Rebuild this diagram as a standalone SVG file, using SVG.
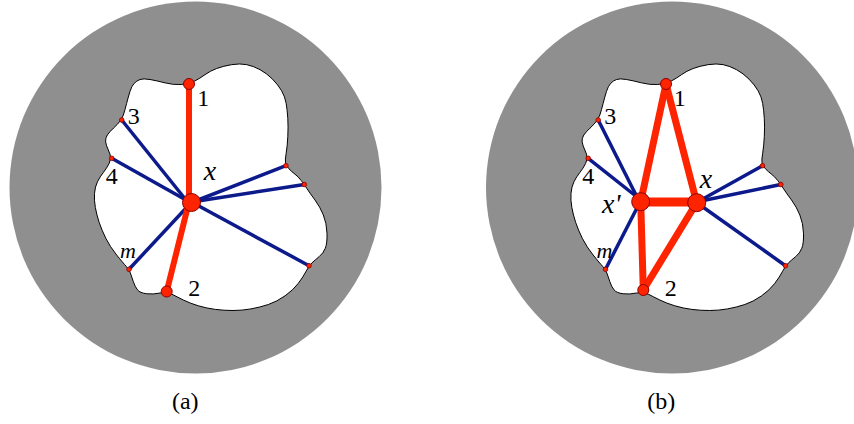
<svg xmlns="http://www.w3.org/2000/svg" xmlns:xlink="http://www.w3.org/1999/xlink" width="854" height="424" viewBox="0 0 854 424">
<style>
.disk{fill:#8f8f8f;stroke:none}
.blob{fill:#ffffff;stroke:#000000;stroke-width:1}
.red{stroke:#ff2400;stroke-linecap:round;fill:none}
.blue{stroke:#0c1a8c;stroke-width:3.5;stroke-linecap:butt;fill:none}
.dot{fill:#ff2400;stroke:#8a0000;stroke-width:0.8}
.node{fill:#ff2400;stroke:#8a0000;stroke-width:1}
text{font-family:'Liberation Serif','DejaVu Serif',Tinos,'Times New Roman',serif;fill:#000;text-anchor:middle}
.lbl{font-size:24px}
.var{font-style:italic;font-size:28px}
.small{font-size:22px}
.cap{font-size:24px}
</style>
<defs>
<path id="blobpath" d="M181.15,84.5 Q189,84 194.5,81.15 Q200,78.3 205,74.65 Q210,71 216.65,68.5 Q223.3,66 231.65,64.65 Q240,63.3 246.65,64.65 Q253.3,66 260,69.65 Q266.7,73.3 272.5,79.15 Q278.3,85 281.65,90.85 Q285,96.7 286.15,103.35 Q287.3,110 287.8,118.35 Q288.3,126.7 287.8,136.7 Q287.3,146.7 286.15,153.35 Q285,160 285.5,162.85 Q286,165.7 288.85,168.7 Q291.7,171.7 295,174.2 Q298.3,176.7 301.3,180.6 Q304.3,184.5 307.15,188.9 Q310,193.3 315,200 Q320,206.7 323.35,215 Q326.7,223.3 327,233.3 Q327.3,243.3 325.3,248.3 Q323.3,253.3 319.15,256.65 Q315,260 312,262.85 Q309,265.7 306.15,271.2 Q303.3,276.7 298.3,283.35 Q293.3,290 285,295.85 Q276.7,301.7 268.35,304.5 Q260,307.3 251,308.9 Q242,310.5 233,310.5 Q224,310.5 215.35,309.4 Q206.7,308.3 198.35,305.8 Q190,303.3 183.35,300 Q176.7,296.7 171.7,294.1 Q166.7,291.5 160,293 Q153.3,294.5 146.65,293.75 Q140,293 137.5,289.85 Q135,286.7 133.35,281.7 Q131.7,276.7 130.35,273 Q129,269.3 126.15,266.3 Q123.3,263.3 116.65,255 Q110,246.7 105.85,238.35 Q101.7,230 99.2,222.5 Q96.7,215 95.35,207.5 Q94,200 94.5,193.35 Q95,186.7 97.5,181.7 Q100,176.7 103.35,172.5 Q106.7,168.3 109.2,163.3 Q111.7,158.3 110,154.15 Q108.3,150 106.65,145.85 Q105,141.7 105.85,138.35 Q106.7,135 110,131.65 Q113.3,128.3 117.5,124.15 Q121.7,120 123.35,115 Q125,110 126.65,103.35 Q128.3,96.7 130,91.35 Q131.7,86 134.2,83.35 Q136.7,80.7 140,79.5 Q143.3,78.3 150,79.5 Q156.7,80.7 165,82.850 Q173.3,85 181.15,84.5 Z"/>
</defs>

<g id="panel-a-background">
<circle class="disk" cx="195.5" cy="187.5" r="186"/>
<use href="#blobpath" xlink:href="#blobpath" class="blob"/>
</g>
<g id="panel-b-background">
<circle class="disk" cx="672" cy="187.5" r="186"/>
<use href="#blobpath" xlink:href="#blobpath" class="blob" transform="translate(476.5,0)"/>
</g>

<g id="connectors">
<line class="blue" x1="121.7" y1="120" x2="186" y2="200"/>
<line class="blue" x1="111.7" y1="158.3" x2="186" y2="200"/>
<line class="blue" x1="129" y1="269.3" x2="188" y2="206"/>
<line class="blue" x1="286" y1="165.7" x2="198" y2="200"/>
<line class="blue" x1="304.3" y1="184.5" x2="198" y2="201"/>
<line class="blue" x1="309" y1="265.7" x2="197" y2="205"/>
<line class="red" stroke-width="6" x1="189" y1="84" x2="189" y2="202"/>
<line class="red" stroke-width="6" x1="166.7" y1="291.5" x2="189" y2="202"/>
<line class="blue" x1="598.2" y1="120" x2="637" y2="197"/>
<line class="blue" x1="588.2" y1="158.3" x2="637" y2="197"/>
<line class="blue" x1="605.5" y1="269.3" x2="638" y2="206"/>
<line class="blue" x1="762.5" y1="165.7" x2="701" y2="200"/>
<line class="blue" x1="780.8" y1="184.5" x2="701" y2="201"/>
<line class="blue" x1="785.5" y1="265.7" x2="700" y2="205"/>
<line class="red" stroke-width="7" x1="666" y1="84" x2="640.7" y2="201.7"/>
<line class="red" stroke-width="7" x1="666" y1="84" x2="696.7" y2="202.7"/>
<line class="red" stroke-width="9" x1="640.7" y1="202" x2="696.7" y2="202"/>
<line class="red" stroke-width="7" x1="640.7" y1="201.7" x2="643.3" y2="290"/>
<line class="red" stroke-width="7" x1="696.7" y1="202.7" x2="643.3" y2="290"/>
</g>

<g id="a-node-1"><circle class="node" cx="189" cy="84" r="5.5"/><text class="lbl" x="203.3" y="106">1</text></g>
<g id="a-node-2"><circle class="node" cx="166.7" cy="291.5" r="5.5"/><text class="lbl" x="194.2" y="296">2</text></g>
<g id="a-node-3"><circle class="dot" cx="121.7" cy="120" r="2.3"/><text class="lbl" x="133.8" y="124">3</text></g>
<g id="a-node-4"><circle class="dot" cx="111.7" cy="158.3" r="2.3"/><text class="lbl" x="111.7" y="183.5">4</text></g>
<g id="a-node-m"><circle class="dot" cx="129" cy="269.3" r="2.3"/><text class="var small" x="128" y="257.5">m</text></g>
<g id="a-node-r1"><circle class="dot" cx="286" cy="165.7" r="2.3"/></g>
<g id="a-node-r2"><circle class="dot" cx="304.3" cy="184.5" r="2.3"/></g>
<g id="a-node-r3"><circle class="dot" cx="309" cy="265.7" r="2.3"/></g>
<g id="a-node-x"><circle class="node" cx="191.5" cy="202.5" r="9"/><text class="var" x="210" y="180">x</text></g>
<g id="a-caption"><text class="cap" x="185.3" y="409">(a)</text></g>

<g id="b-node-1"><circle class="node" cx="666" cy="84" r="5.5"/><text class="lbl" x="679.8" y="106">1</text></g>
<g id="b-node-2"><circle class="node" cx="643.3" cy="290" r="5.5"/><text class="lbl" x="670.7" y="296">2</text></g>
<g id="b-node-3"><circle class="dot" cx="598.2" cy="120" r="2.3"/><text class="lbl" x="610.3" y="124">3</text></g>
<g id="b-node-4"><circle class="dot" cx="588.2" cy="158.3" r="2.3"/><text class="lbl" x="588.2" y="183.5">4</text></g>
<g id="b-node-m"><circle class="dot" cx="605.5" cy="269.3" r="2.3"/><text class="var small" x="604.5" y="257.5">m</text></g>
<g id="b-node-r1"><circle class="dot" cx="762.5" cy="165.7" r="2.3"/></g>
<g id="b-node-r2"><circle class="dot" cx="780.8" cy="184.5" r="2.3"/></g>
<g id="b-node-r3"><circle class="dot" cx="785.5" cy="265.7" r="2.3"/></g>
<g id="b-node-xprime"><circle class="node" cx="640.7" cy="201.7" r="9"/><text class="var" style="text-anchor:start" x="602" y="213.3">x'</text></g>
<g id="b-node-x"><circle class="node" cx="696.7" cy="202.7" r="9"/><text class="var" x="706" y="188.3">x</text></g>
<g id="b-caption"><text class="cap" x="661.3" y="409">(b)</text></g>
</svg>
